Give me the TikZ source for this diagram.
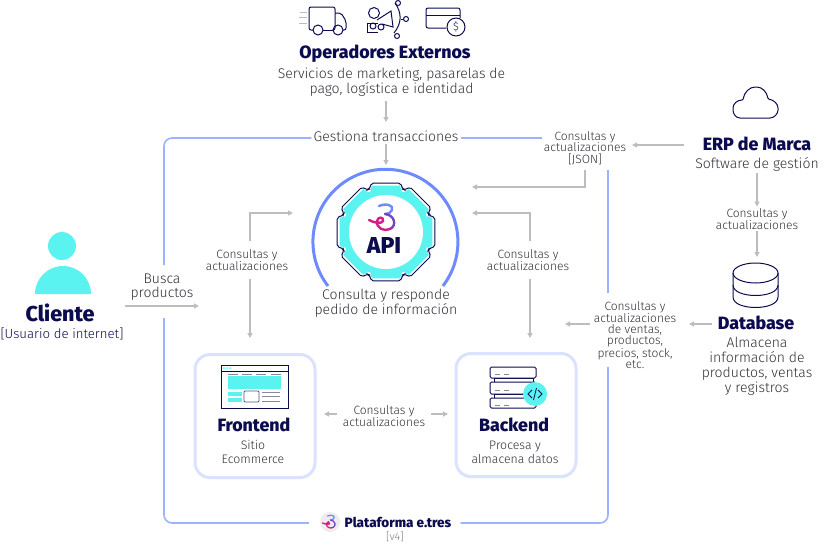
\documentclass[tikz,border=0pt]{standalone}
\usepackage{fontspec}
\setmainfont{Fira Sans}[UprightFont=* Light, BoldFont=* ExtraBold]
\usetikzlibrary{arrows.meta}
\definecolor{navy}{HTML}{0B0B4F}
\definecolor{cian}{HTML}{5BF3F0}
\definecolor{marcoazul}{HTML}{9DB3FF}
\definecolor{arcoazul}{HTML}{6D8BFF}
\definecolor{panel}{HTML}{DBE2FF}
\definecolor{gris}{HTML}{BDBDBD}
\definecolor{texto}{HTML}{303038}
\newcommand{\engrane}[2]{(-21:#2) \foreach \a in {0,45,...,315} { -- (\a-21:#2) -- (\a-17:#1) -- (\a+17:#1) -- (\a+21:#2) } -- cycle}
\tikzset{
  flecha/.style={-{Triangle[length=5pt,width=5pt]}, line width=1.3pt, color=gris},
  marco/.style={line width=1.6pt, color=marcoazul, rounded corners=8pt},
  panelbox/.style={draw=panel, line width=3pt, rounded corners=15pt, fill=white},
  icono/.style={draw=navy, line width=1pt},
  titulo/.style={font=\fontsize{17.8}{19}\selectfont\bfseries, text=navy, inner sep=0pt},
  cuerpo/.style={font=\fontsize{14}{15}\selectfont, text=texto, align=center, inner sep=2pt},
  chico/.style={font=\fontsize{12}{11.5}\selectfont, text=texto, align=center, inner sep=2pt},
  logo line/.style={line width=2.4pt},
  logoetres/.pic={
    \draw[logo line, color=arcoazul, line cap=round] (-5,-12) .. controls (2,-15) and (10,-13) .. (8,-8) .. controls (7,-5) and (4,-4) .. (1,-4);
    \draw[logo line, color=arcoazul!50!violet, line cap=round] (1,-4) .. controls (11,-3) and (13,8) .. (6,11);
    \draw[logo line, color=magenta!75!violet, line cap=round] (6,11) .. controls (0,14) and (-8,10) .. (-7,3) .. controls (-6,-2) and (0,-1) .. (-1,3) .. controls (-2,6) and (-10,5) .. (-15,2);
  }
}
\begin{document}
\begin{tikzpicture}[x=1pt, y=-1pt]
    \useasboundingbox (0,0) rectangle (834,544);

    % Operadores Externos
    \node[titulo] (operadores) at (385,54) {Operadores Externos};
    \node[cuerpo] (servicios) at (391.5,82) {Servicios de marketing, pasarelas de\\pago, logística e identidad};
    \node[cuerpo] (gestiona) at (386,136) {Gestiona transacciones};

    % Camion
    \draw[icono, rounded corners=2pt] (313,30) -- (309,30) -- (309,7) -- (335,7) -- (335,30) -- (333,30);
    \draw[icono, rounded corners=2pt] (335,13) -- (341,13) -- (346,21) -- (346,30) -- (343,30);
    \draw[icono] (323,30) -- (333,30);
    \draw[icono] (318,30) circle[radius=5] (338,30) circle[radius=5];
    \draw[gris, line width=1pt] (300,12) -- (307,12) (299,17) -- (307,17) (299,23) -- (307,23);

    % Megafono y persona
    \draw[icono] (374,13) circle[radius=5.5];
    \draw[icono] (378,23) -- (367,23) -- (367,32) -- (378,32);
    \draw[icono] (377,20) -- (391,11) -- (393,27) -- (382,24);
    \draw[icono] (373,26) circle[radius=3] (381,27) circle[radius=3];
    \draw[icono] (395,3) .. controls (402,13) and (402,23) .. (394,33);
    \draw[icono] (401,19) -- (403,19);
    \draw[icono] (398,3) circle[radius=2.5] (406,19) circle[radius=2.5] (397,36) circle[radius=2.5];

    % Tarjeta
    \draw[icono, rounded corners=2pt] (446,28) -- (426,28) -- (426,8) -- (460,8) -- (460,18);
    \draw[icono] (426,15) -- (460,15);
    \draw[icono, fill=white] (456,27) circle[radius=9];
    \node[font=\fontsize{11}{12}\selectfont, text=navy, inner sep=0pt] (dolar) at (456,27) {\$};

    % Marco de la plataforma
    \coordinate (nw) at (164,138);
    \coordinate (sw) at (164,523);
    \coordinate (se) at (608,523);
    \coordinate (marcoa) at (164,265);
    \coordinate (marcob) at (164,318);
    \coordinate (marcoc) at (608,293);
    \coordinate (marcod) at (608,367);
    \coordinate (marcoe) at (608,170);
    \node[font=\fontsize{13.5}{14}\selectfont\bfseries, text=navy, inner sep=0pt] (plataforma) at (398,522) {Plataforma e.tres};
    \node[font=\fontsize{11}{12}\selectfont, text=gray, inner sep=0pt] (version) at (395,537) {[v4]};
    \node[chico] (json) at (585,148) {Consultas y\\actualizaciones\\{}[JSON]};
    \node[circle, fill=black!7, minimum size=20pt, inner sep=0pt] (logoplat) at (330,522) {};
    \draw[marco] (gestiona.west |- nw) -- (nw) -- (marcoa);
    \draw[marco, shorten >=11pt] (marcob) -- (sw) -- (logoplat.west |- sw);
    \draw[marco, shorten <=9pt] (plataforma.east |- se) -- (se) -- (marcod);
    \draw[marco] (marcoc) -- (marcoe);
    \draw[marco] (gestiona.east |- nw) -- (json.west |- nw);
    \pic[scale=.5, logo line/.style={line width=1.3pt}] at (330,522) {logoetres};

    % API
    \draw[arcoazul, line width=3pt] (328,286) arc[start angle=217.6, end angle=-37.6, radius=72.5pt];
    \begin{scope}[shift={(386,232)}]
        \draw[navy, line width=1pt, fill=white, rounded corners=2pt] \engrane{51}{46};
        \fill[cian] \engrane{48.5}{43.5};
        \fill[white] (0,0) circle[radius=37];
    \end{scope}
    \pic at (384,218) {logoetres};
    \node[font=\fontsize{23}{24}\selectfont\bfseries, text=navy, inner sep=0pt] (api) at (384,246) {API};
    \node[cuerpo] (consulta) at (386,303) {Consulta y responde\\pedido de información};

    % Cliente
    \fill[cian] (62,246) circle[radius=14];
    \fill[cian] (35,294) arc[start angle=180, end angle=0, radius=28pt] -- cycle;
    \node[font=\fontsize{21.5}{22}\selectfont\bfseries, text=navy, inner sep=0pt] (cliente) at (60,313) {Cliente};
    \node[font=\fontsize{13.2}{14}\selectfont, text=navy, inner sep=0pt] (usuario) at (62,334) {[Usuario de internet]};
    \node[cuerpo, font=\fontsize{14}{14}\selectfont] (busca) at (162,287) {Busca\\productos};
    \coordinate (buscafin) at (199,306);
    \coordinate (buscaini) at (125,306);

    % ERP de Marca
    \draw[icono, rounded corners=1pt] (741,118) .. controls (736,118) and (733,114) .. (733,109) .. controls (733,104) and (737,100) .. (743,100) .. controls (744,92) and (750,87) .. (756,87) .. controls (762,87) and (767,92) .. (768,99) .. controls (774,100) and (778,104) .. (778,109) .. controls (778,114) and (774,118) .. (769,118) -- cycle;
    \node[titulo] (erp) at (757,144) {ERP de Marca};
    \node[cuerpo] (software) at (757,164) {Software de gestión};
    \node[chico] (consdb) at (757,219) {Consultas y\\actualizaciones};

    % Database
    \draw[icono] (755.5,273) ellipse[x radius=22.5, y radius=10];
    \draw[icono] (733,273) -- (733,297) .. controls (733,311) and (778,311) .. (778,297) -- (778,273);
    \draw[icono] (733,285) .. controls (733,299) and (778,299) .. (778,285);
    \node[titulo] (database) at (756,323) {Database};
    \node[cuerpo] (almacena) at (757,366) {Almacena\\información de\\productos, ventas\\y registros};
    \node[chico, font=\fontsize{12}{11}\selectfont] (ventas) at (635,335) {Consultas y\\actualizaciones\\de ventas,\\productos,\\precios, stock,\\etc.};

    % Frontend
    \node[panelbox, minimum width=120pt, minimum height=123pt, inner sep=0pt] (frontend) at (255,416) {};
    \draw[icono, fill=white] (221,365) rectangle (288,408);
    \draw[icono] (221,371) -- (288,371);
    \fill[cian] (224,368) circle[radius=1] (227,368) circle[radius=1] (230,368) circle[radius=1];
    \draw[gris!70!navy, line width=.8pt] (228,374) -- (238,374) (242,374) -- (252,374) (256,374) -- (266,374) (271,374) -- (281,374);
    \fill[cian] (228,376) rectangle (281,389);
    \fill[cian] (228,392) rectangle (242,396);
    \fill[cian] (228,398) rectangle (242,402);
    \draw[navy!70, line width=.8pt, rounded corners=1pt] (244,391) rectangle (259,402);
    \draw[gris!70!navy, line width=.8pt] (262,392) -- (280,392) (262,396) -- (280,396) (262,401) -- (280,401);
    \node[titulo] (fronttit) at (254,425) {Frontend};
    \node[chico, font=\fontsize{12.3}{14}\selectfont] (sitio) at (253,452) {Sitio\\Ecommerce};

    % Backend
    \node[panelbox, minimum width=120pt, minimum height=123pt, inner sep=0pt] (backend) at (516,415) {};
    \draw[icono] (494,378) rectangle (533,382) (494,394) rectangle (533,398);
    \draw[icono, fill=white, rounded corners=1.5pt] (490,367) rectangle (536,378);
    \draw[icono, fill=white, rounded corners=1.5pt] (490,382) rectangle (536,394);
    \draw[icono, fill=white, rounded corners=1.5pt] (490,398) rectangle (536,408);
    \draw[gris!70!navy, line width=.8pt] (495,374) -- (500,374) (504,374) -- (509,374) (495,390) -- (500,390) (504,390) -- (509,390) (495,405) -- (500,405) (504,405) -- (509,405);
    \fill[cian] (535,394) circle[radius=12];
    \draw[navy, line width=.8pt] (532,390) -- (528,394) -- (532,398) (538,390) -- (542,394) -- (538,398) (536.5,388) -- (533.5,400);
    \node[titulo] (backtit) at (514,425) {Backend};
    \node[chico, font=\fontsize{12.3}{14}\selectfont] (procesa) at (515,452) {Procesa y\\almacena datos};

    % Consultas centrales
    \node[chico] (consmid) at (384,416) {Consultas y\\actualizaciones};
    \node[chico] (consizq) at (247,260) {Consultas y\\actualizaciones};
    \node[chico] (consder) at (528,260) {Consultas y\\actualizaciones};

    % Extremos libres
    \coordinate (opfin) at (386,122);
    \coordinate (opini) at (386,101);
    \coordinate (gesfin) at (386,165);
    \coordinate (erpini) at (684,145);
    \coordinate (erpfin) at (632,145);
    \coordinate (apiizq) at (293,213);
    \coordinate (apider) at (472,213);
    \coordinate (apijson) at (472,187);
    \coordinate (jsonini) at (585,170);
    \coordinate (izqini) at (250,241);
    \coordinate (izqbaj) at (250,279);
    \coordinate (derini) at (530,241);
    \coordinate (derbaj) at (530,279);
    \coordinate (frontarr) at (250,338);
    \coordinate (backarr) at (530,338);
    \coordinate (midizqa) at (337,414);
    \coordinate (frontizq) at (324,414);
    \coordinate (midder) at (431,414);
    \coordinate (backder) at (448,414);
    \coordinate (dbfin) at (757,257);
    \coordinate (dbini) at (712,324);
    \coordinate (dbtip) at (689,324);
    \coordinate (ventaini) at (590,324);
    \coordinate (ventafin) at (565,324);

    % Edges
    \draw[flecha] (opini) -- (opfin);
    \draw[flecha] (gestiona.south) -- (gesfin);
    \draw[flecha] (erpini) -- (erpfin);
    \draw[flecha] (jsonini) |- (apijson);
    \draw[flecha] (izqini) |- (apiizq);
    \draw[flecha] (derini) |- (apider);
    \draw[flecha] (izqbaj) -- (frontarr);
    \draw[flecha] (derbaj) -- (backarr);
    \draw[flecha] (buscaini) -- (buscafin);
    \draw[flecha] (midizqa) -- (frontizq);
    \draw[flecha] (midder) -- (backder);
    \draw[flecha] (software.south) -- (consdb.north);
    \draw[flecha] (consdb.south) -- (dbfin);
    \draw[flecha] (dbini) -- (dbtip);
    \draw[flecha] (ventaini) -- (ventafin);
\end{tikzpicture}
\end{document}
